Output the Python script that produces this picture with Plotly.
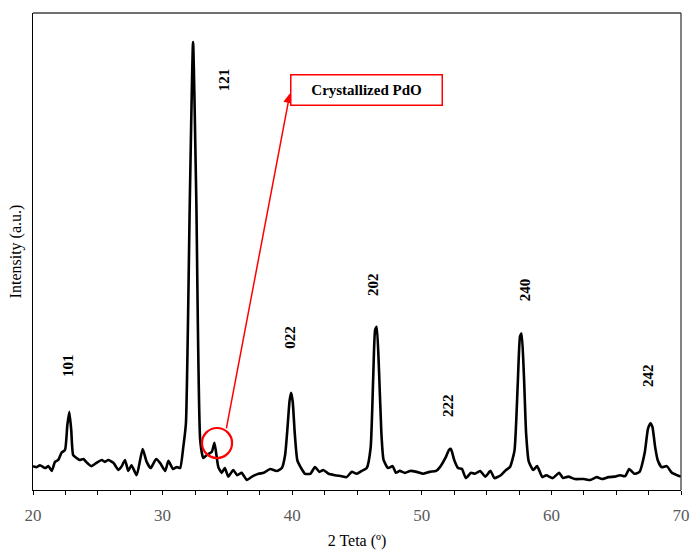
import plotly.graph_objects as go

# XRD pattern: diffraction angle (2θ, degrees) and intensity (arbitrary units)
two_theta = [
    20.0, 20.28, 20.54, 20.93, 21.2, 21.44, 21.7, 21.95, 22.2, 22.47, 22.65, 22.8, 22.95,
    23.1, 23.37, 23.6, 23.9, 24.1, 24.5, 24.9, 25.3, 25.55, 25.8, 26.2, 26.6, 26.85,
    27.1, 27.35, 27.6, 28.0, 28.46, 28.77, 29.08, 29.5, 29.8, 30.2, 30.45, 30.8, 31.1,
    31.35, 31.6, 31.8, 32.1, 32.35, 32.6, 32.9, 33.14, 33.4, 33.8, 34.0, 34.3, 34.56,
    34.8, 35.07, 35.45, 35.76, 36.1, 36.5, 36.9, 37.4, 37.8, 38.3, 38.8, 39.2, 39.45,
    39.65, 39.8, 39.92, 40.04, 40.2, 40.4, 40.73, 40.99, 41.4, 41.76, 42.1, 42.4, 42.8,
    43.3, 43.8, 44.2, 44.6, 44.97, 45.36, 45.75, 46.05, 46.25, 46.4, 46.52, 46.7, 46.88,
    47.05, 47.4, 47.75, 48.0, 48.3, 48.7, 49.1, 49.6, 50.1, 50.6, 51.1, 51.4, 51.87,
    52.1, 52.25, 52.5, 52.8, 53.1, 53.4, 53.8, 54.1, 54.5, 54.9, 55.3, 55.6, 56.1,
    56.5, 56.8, 57.15, 57.4, 57.58, 57.7, 57.88, 58.05, 58.25, 58.6, 58.9, 59.3, 59.6,
    60.1, 60.6, 60.9, 61.3, 61.8, 62.5, 63.0, 63.5, 63.9, 64.4, 64.9, 65.3, 65.7,
    66.0, 66.4, 66.8, 67.2, 67.45, 67.65, 67.8, 68.0, 68.2, 68.5, 68.9, 69.3, 69.7,
    70.0,
]
intensity = [
    50, 48, 52, 46, 50, 40, 59, 63, 78, 84, 136, 164, 126,
    73, 67, 63, 65, 59, 50, 57, 63, 59, 63, 57, 42, 50,
    63, 40, 52, 31, 86, 59, 46, 65, 57, 40, 61, 44, 48,
    46, 91, 140, 608, 939, 608, 105, 67, 73, 80, 99, 48, 36,
    46, 28, 42, 31, 36, 21, 28, 34, 36, 44, 40, 46, 73,
    135, 188, 204, 185, 118, 62, 44, 34, 34, 48, 38, 42, 34,
    31, 29, 27, 38, 34, 40, 46, 88, 235, 336, 342, 250, 120,
    63, 46, 50, 36, 40, 36, 40, 38, 34, 38, 40, 48, 70,
    84, 86, 63, 46, 44, 25, 36, 34, 40, 28, 40, 25, 31,
    42, 48, 82, 220, 322, 328, 240, 118, 60, 42, 50, 27, 31,
    25, 36, 25, 28, 23, 23, 21, 27, 23, 27, 28, 31, 29,
    44, 34, 38, 78, 128, 140, 132, 91, 63, 48, 50, 36, 31,
    28,
]

# Miller indices of the indexed reflections
hkl_labels = ["101", "121", "022", "202", "222", "240", "242"]

SERIF = "Liberation Serif, Times New Roman, serif"

fig = go.Figure()
fig.add_trace(go.Scatter(
    x=two_theta, y=intensity, mode="lines",
    line=dict(color="black", width=2.6, shape="spline", smoothing=0.5),
    showlegend=False, hoverinfo="skip",
))

# label anchors (2θ, intensity) for each reflection
label_pos = [(22.70, 262), (34.74, 859), (39.83, 319), (46.23, 432),
             (52.02, 178), (57.96, 421), (67.45, 241)]
annotations = []
for text, (lx, ly) in zip(hkl_labels, label_pos):
    annotations.append(dict(
        x=lx, y=ly, xref="x", yref="y", text=f"<b>{text}</b>", showarrow=False,
        textangle=-90, font=dict(family=SERIF, size=15, color="black"),
    ))

# arrow from the small PdO reflection to the callout box
annotations.append(dict(
    x=39.83, y=832, xref="x", yref="y", ax=34.9, ay=126, axref="x", ayref="y",
    text="", showarrow=True, arrowhead=2, arrowsize=1.3, arrowwidth=1.5,
    arrowcolor="#ff0000",
))
# callout box
annotations.append(dict(
    x=45.77, y=838, xref="x", yref="y", text="<b>Crystallized PdO</b>", showarrow=False,
    font=dict(family=SERIF, size=15, color="black"),
    bordercolor="#ff0000", borderwidth=1.5, borderpad=1, bgcolor="white",
    width=148, height=27,
))

shapes = [
    # circle around the PdO reflection
    dict(type="circle", xref="x", yref="y", x0=33.04, x1=35.36, y0=67, y1=130,
         line=dict(color="#ff0000", width=2.2)),
    # top and right frame lines
    dict(type="line", xref="paper", yref="paper", x0=0, x1=1, y0=1, y1=1,
         line=dict(color="#404040", width=1.3)),
    dict(type="line", xref="paper", yref="paper", x0=1, x1=1, y0=0, y1=1,
         line=dict(color="#404040", width=1.3)),
]

fig.update_layout(
    width=691, height=550,
    margin=dict(l=33, r=10, t=13, b=60, autoexpand=False),
    plot_bgcolor="white", paper_bgcolor="white",
    annotations=annotations, shapes=shapes,
    font=dict(family=SERIF),
    xaxis=dict(
        range=[20, 70], tickvals=[20, 30, 40, 50, 60, 70], automargin=False,
        ticks="outside", ticklen=4, tickwidth=1.2, tickcolor="black",
        ticklabelstandoff=5,
        minor=dict(dtick=2.5, tick0=20, ticks="outside", ticklen=4, tickwidth=1.2,
                   tickcolor="black"),
        showline=True, linecolor="black", linewidth=1.3, showgrid=False, zeroline=False,
        tickfont=dict(family=SERIF, size=17, color="#595959"),
        title=dict(text="2 Teta (º)", font=dict(family=SERIF, size=16, color="black"),
                   standoff=12),
    ),
    yaxis=dict(
        range=[0, 1000], showticklabels=False, ticks="", automargin=False,
        showline=True, linecolor="black", linewidth=1.3, showgrid=False, zeroline=False,
        title=dict(text="Intensity (a.u.)", font=dict(family=SERIF, size=16, color="black"),
                   standoff=6),
    ),
)

fig.write_html("out.html")
